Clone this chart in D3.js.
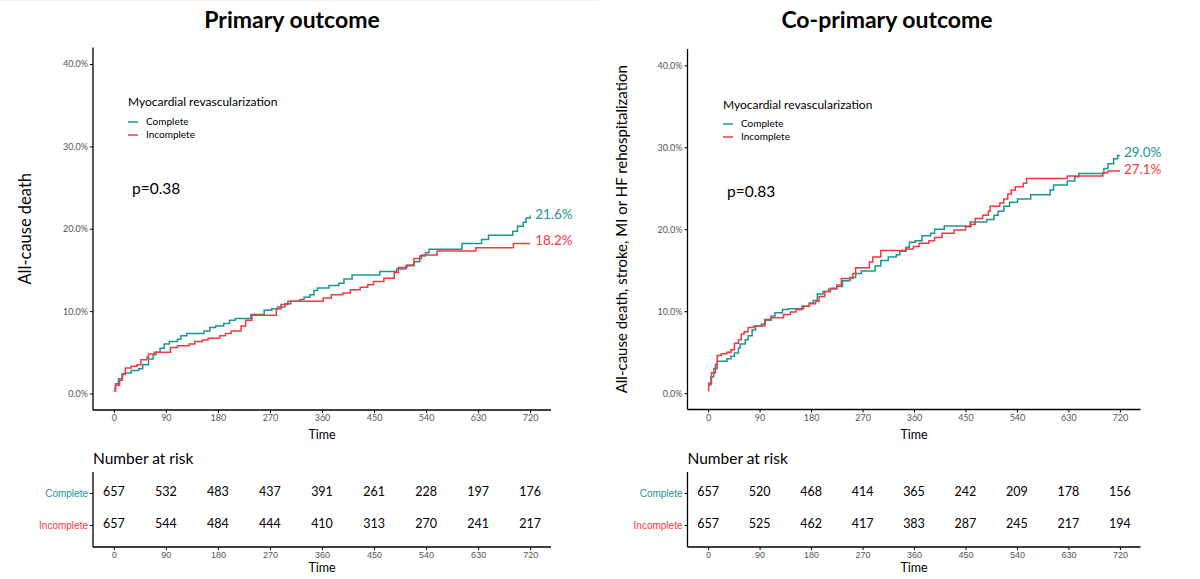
<!DOCTYPE html>
<html>
<head>
<meta charset="utf-8">
<script src="https://cdn.jsdelivr.net/npm/d3@7"></script>
<style>
  html, body { margin: 0; padding: 0; background: #fff; }
  svg { display: block; font-family: Lato, "Open Sans", sans-serif; }
</style>
</head>
<body>
<svg id="chart" width="1200" height="579"></svg>
<script>
// ---------- DATA ----------
const groups = ["Complete", "Incomplete"];
const timeTicks = [0, 90, 180, 270, 360, 450, 540, 630, 720];
const pctTicks = [0, 10, 20, 30, 40];

// Primary outcome: cumulative incidence steps [day, %]
const primaryComplete = [
  [0,0.6],[3,1.2],[8,1.8],[14,2.3],[20,2.5],[30,2.8],[43,3.0],[50,3.5],[60,4.2],[68,4.7],[73,5.0],[80,5.5],[87,6.0],
  [96,6.3],[110,6.6],[116,7.0],[126,7.3],[156,7.6],[166,8.0],[176,8.2],[190,8.5],[200,8.9],[210,9.1],
  [237,9.6],[260,10.1],[273,10.3],[283,10.5],[296,10.9],[306,11.2],[322,11.4],[329,11.7],[339,12.0],
  [346,12.5],[352,12.8],[372,13.1],[389,13.4],[398,13.9],[412,14.4],[460,14.8],[489,15.1],[505,15.5],
  [519,16.0],[529,16.7],[539,17.1],[545,17.5],[602,18.2],[636,18.7],[648,19.2],[690,19.7],[698,20.3],
  [708,20.8],[713,21.3],[720,21.6]
];
const primaryIncomplete = [
  [0,0.3],[3,1.0],[10,1.6],[15,2.4],[20,3.1],[30,3.3],[40,3.5],[47,4.1],[57,4.4],[60,4.8],[70,5.0],
  [98,5.6],[110,5.8],[130,6.0],[140,6.3],[153,6.5],[163,6.7],[183,7.0],[193,7.3],[203,7.6],[220,8.2],
  [228,8.9],[239,9.5],[281,10.3],[289,10.8],[301,11.2],[362,11.6],[376,12.0],[396,12.2],[409,12.6],
  [426,12.9],[439,13.2],[449,13.6],[467,14.0],[485,14.7],[492,15.3],[507,15.6],[519,16.4],[532,16.8],
  [559,17.3],[626,17.7],[691,18.2],[720,18.2]
];
// Co-primary outcome
const coComplete = [
  [0,1.0],[5,2.0],[10,3.0],[16,3.9],[33,4.2],[40,4.5],[46,4.9],[53,5.5],[56,6.0],[65,6.5],[70,7.0],[77,7.7],
  [83,8.2],[93,8.4],[100,8.9],[110,9.4],[117,9.8],[130,10.2],[140,10.3],[167,10.6],[177,11.0],[184,11.3],
  [191,12.1],[201,12.4],[211,12.7],[225,13.0],[235,13.7],[248,14.1],[258,14.6],[268,14.9],[292,15.5],
  [302,16.2],[315,16.6],[329,16.9],[335,17.3],[346,17.8],[352,18.4],[362,18.6],[374,19.2],[389,19.5],
  [396,20.0],[413,20.4],[458,20.9],[487,21.2],[500,21.7],[507,22.2],[517,22.8],[527,23.3],[541,23.7],
  [564,24.2],[598,24.8],[604,25.4],[628,25.9],[641,26.4],[648,26.8],[692,27.4],[699,28.0],[709,28.6],
  [716,29.0],[720,29.0]
];
const coIncomplete = [
  [0,0.3],[1,1.2],[6,2.5],[13,3.5],[16,4.6],[23,4.8],[33,5.0],[40,5.3],[46,6.1],[53,6.5],[58,7.2],[63,7.5],
  [70,8.0],[80,8.2],[99,9.0],[110,9.2],[132,9.6],[144,9.9],[154,10.2],[164,10.6],[177,10.9],[188,11.2],
  [194,11.8],[204,12.4],[214,12.8],[225,13.2],[233,14.0],[253,14.6],[258,15.3],[282,16.0],[288,16.6],
  [302,17.4],[346,17.6],[359,17.9],[369,18.3],[386,18.6],[396,19.0],[409,19.5],[430,19.9],[450,20.3],
  [460,20.6],[467,21.3],[480,21.7],[490,22.2],[493,22.8],[510,23.2],[517,23.7],[524,24.3],[530,24.8],
  [537,25.2],[551,25.6],[557,26.2],[628,26.5],[690,26.9],[699,27.1],[720,27.1]
];

// Numbers at risk
const primaryRiskComplete   = [657, 532, 483, 437, 391, 261, 228, 197, 176];
const primaryRiskIncomplete = [657, 544, 484, 444, 410, 313, 270, 241, 217];
const coRiskComplete        = [657, 520, 468, 414, 365, 242, 209, 178, 156];
const coRiskIncomplete      = [657, 525, 462, 417, 383, 287, 245, 217, 194];

const endLabels = { primary: ["21.6%", "18.2%"], co: ["29.0%", "27.1%"] };
const pValues = { primary: "p=0.38", co: "p=0.83" };
const titles = { primary: "Primary outcome", co: "Co-primary outcome" };
const yLabels = { primary: "All-cause death", co: "All-cause death, stroke, MI or HF rehospitalization" };

// ---------- STYLE ----------
const colors = { Complete: "#1b968f", Incomplete: "#f5383f" };
const tickGray = "#555555";

const svg = d3.select("#chart");

const panels = [
  {
    key: "primary", x0: 93, x1: 551, yTop: 47.5, yBot: 410,
    series: [primaryComplete, primaryIncomplete],
    risk: [primaryRiskComplete, primaryRiskIncomplete],
    titleX: 292, legendX: 128, pX: 132, pY: 194, yLabX: 31, yLabSize: 16.5,
    endY: [216, 242], labelDx: 5
  },
  {
    key: "co", x0: 687.5, x1: 1140.5, yTop: 49, yBot: 409.5,
    series: [coComplete, coIncomplete],
    risk: [coRiskComplete, coRiskIncomplete],
    titleX: 887, legendX: 723, pX: 727, pY: 197, yLabX: 627, yLabSize: 15,
    endY: [154, 171], labelDx: 4
  }
];

panels.forEach(p => {
  const g = svg.append("g");
  const x = d3.scaleLinear().domain([-36, 756]).range([p.x0, p.x1]);
  const y = d3.scaleLinear().domain([-2, 42]).range([p.yBot, p.yTop]);

  // title
  g.append("text").attr("x", p.titleX).attr("y", 28)
    .attr("text-anchor", "middle").attr("font-size", 23).attr("font-weight", 700)
    .attr("fill", "#000").text(titles[p.key]);

  // axes
  const xAxis = d3.axisBottom(x).tickValues(timeTicks).tickSize(3).tickPadding(2).tickFormat(d3.format("d"));
  const yAxis = d3.axisLeft(y).tickValues(pctTicks).tickSize(3).tickPadding(2).tickFormat(d => d3.format(".1f")(d) + "%");

  const gx = g.append("g").attr("transform", `translate(0,${p.yBot})`).call(xAxis);
  const gy = g.append("g").attr("transform", `translate(${p.x0},0)`).call(yAxis);
  [gx, gy].forEach(a => {
    a.select(".domain").attr("stroke", "#000").attr("stroke-width", 1.3);
    a.selectAll(".tick line").attr("stroke", "#000");
    a.selectAll(".tick text").attr("fill", tickGray).attr("font-size", 9).attr("font-family", "Lato, sans-serif");
  });
  gx.select(".domain").attr("d", `M${p.x0},0H${p.x1}`);
  gy.select(".domain").attr("d", `M0,${p.yTop}V${p.yBot}`);

  g.append("text").attr("x", (p.x0 + p.x1) / 2).attr("y", p.yBot + 29)
    .attr("text-anchor", "middle").attr("font-size", 12.5).attr("fill", "#000").text("Time");

  // y label
  g.append("text")
    .attr("transform", `translate(${p.yLabX},${(p.yTop + p.yBot) / 2}) rotate(-90)`)
    .attr("text-anchor", "middle").attr("font-size", p.yLabSize).attr("fill", "#000")
    .text(yLabels[p.key]);

  // curves
  const line = d3.line().x(d => x(d[0])).y(d => y(d[1])).curve(d3.curveStepAfter);
  p.series.forEach((s, i) => {
    g.append("path").datum(s).attr("d", line)
      .attr("fill", "none").attr("stroke", colors[groups[i]]).attr("stroke-width", 1.5);
    const last = s[s.length - 1];
    g.append("text").attr("x", x(last[0]) + p.labelDx).attr("y", p.endY[i])
      .attr("dominant-baseline", "middle").attr("font-size", 13.5).attr("fill", colors[groups[i]])
      .text(endLabels[p.key][i]);
  });

  // legend
  const lg = g.append("g");
  lg.append("text").attr("x", p.legendX).attr("y", 103 + (p.key === "co" ? 3 : 0))
    .attr("dominant-baseline", "middle").attr("font-size", 12).attr("fill", "#000")
    .text("Myocardial revascularization");
  groups.forEach((grp, i) => {
    const ly = 122 + i * 13 + (p.key === "co" ? 2 : 0);
    lg.append("line").attr("x1", p.legendX).attr("x2", p.legendX + 10)
      .attr("y1", ly).attr("y2", ly).attr("stroke", colors[grp]).attr("stroke-width", 1.5);
    lg.append("text").attr("x", p.legendX + 18).attr("y", ly)
      .attr("dominant-baseline", "middle").attr("font-size", 10).attr("fill", "#000").text(grp);
  });

  // p value
  g.append("text").attr("x", p.pX).attr("y", p.pY).attr("font-size", 15.5).attr("fill", "#000")
    .text(pValues[p.key]);

  // ---- risk table ----
  const tTop = 472, tBot = 547;
  const yr = d3.scalePoint().domain(groups).range([493, 525]);
  g.append("text").attr("x", p.x0).attr("y", 464).attr("font-size", 15.5).attr("fill", "#000")
    .text("Number at risk");
  const tx = g.append("g").attr("transform", `translate(0,${tBot})`).call(xAxis);
  tx.select(".domain").attr("d", `M${p.x0},0H${p.x1}`).attr("stroke", "#000").attr("stroke-width", 1.3);
  tx.selectAll(".tick line").attr("stroke", "#000");
  tx.selectAll(".tick text").attr("fill", tickGray).attr("font-size", 9);
  const ty = g.append("g").attr("transform", `translate(${p.x0},0)`)
    .call(d3.axisLeft(yr).tickSize(3).tickPadding(2));
  ty.select(".domain").attr("d", `M0,${tTop}V${tBot}`).attr("stroke", "#000").attr("stroke-width", 1.3);
  ty.selectAll(".tick line").attr("stroke", "#000");
  ty.selectAll(".tick text").attr("font-size", 10).attr("fill", d => colors[d]);
  g.append("text").attr("x", (p.x0 + p.x1) / 2).attr("y", tBot + 25)
    .attr("text-anchor", "middle").attr("font-size", 12.5).attr("fill", "#000").text("Time");

  p.risk.forEach((vals, i) => {
    g.selectAll(null).data(vals).join("text")
      .attr("x", (d, j) => x(timeTicks[j])).attr("y", yr(groups[i]))
      .attr("text-anchor", "middle").attr("dominant-baseline", "middle")
      .attr("font-size", 12.5).attr("fill", "#000").text(d => d);
  });
});

// faint separator at top-left, as in the source image
svg.append("line").attr("x1", 0).attr("x2", 598).attr("y1", 0.5).attr("y2", 0.5)
  .attr("stroke", "#eeeeee").attr("stroke-width", 1);
</script>
</body>
</html>
